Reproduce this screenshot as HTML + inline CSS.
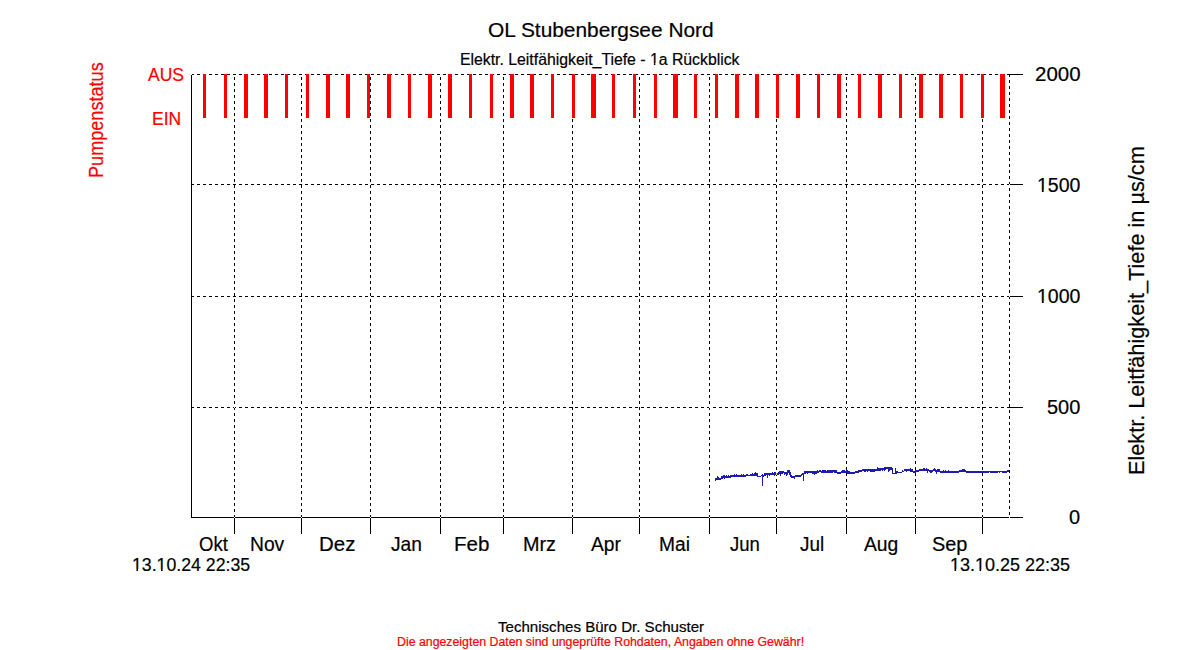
<!DOCTYPE html>
<html><head><meta charset="utf-8"><style>
html,body{margin:0;padding:0;background:#fff;width:1200px;height:650px;overflow:hidden}
svg{display:block}
text{font-family:"Liberation Sans",sans-serif;stroke-width:0.2px;paint-order:stroke}
</style></head><body>
<svg width="1200" height="650" viewBox="0 0 1200 650">
<rect width="1200" height="650" fill="#fff"/>
<g shape-rendering="crispEdges">
<path fill="#1c1cb4" d="M715 478h1v3h-1zM716 478h1v2h-1zM717 476h1v4h-1zM718 477h1v3h-1zM719 478h1v2h-1zM720 478h1v2h-1zM721 476h1v3h-1zM722 476h1v3h-1zM723 475h1v3h-1zM724 475h1v4h-1zM725 476h1v2h-1zM726 475h1v3h-1zM727 476h1v2h-1zM728 475h1v3h-1zM729 476h1v2h-1zM730 475h1v3h-1zM731 475h1v2h-1zM732 475h1v2h-1zM733 475h1v2h-1zM734 474h1v3h-1zM735 475h1v2h-1zM736 474h1v3h-1zM737 475h1v2h-1zM738 475h1v2h-1zM739 475h1v2h-1zM740 475h1v2h-1zM741 474h1v3h-1zM742 475h1v2h-1zM743 474h1v3h-1zM744 475h1v2h-1zM745 475h1v2h-1zM746 474h1v2h-1zM747 474h1v2h-1zM748 475h1v1h-1zM749 475h1v1h-1zM750 474h1v2h-1zM751 474h1v2h-1zM752 473h1v3h-1zM753 474h1v2h-1zM754 473h1v3h-1zM755 472h1v4h-1zM756 473h1v3h-1zM757 473h1v4h-1zM758 476h1v1h-1zM759 476h1v1h-1zM760 476h1v1h-1zM761 475h1v1h-1zM762 474h1v12h-1zM763 475h1v2h-1zM764 473h1v3h-1zM765 473h1v3h-1zM766 473h1v2h-1zM767 473h1v5h-1zM768 473h1v2h-1zM769 473h1v3h-1zM770 473h1v2h-1zM771 473h1v2h-1zM772 472h1v3h-1zM773 473h1v2h-1zM774 472h1v4h-1zM775 472h1v3h-1zM776 473h1v2h-1zM777 473h1v2h-1zM778 472h1v3h-1zM779 471h1v3h-1zM780 471h1v5h-1zM781 471h1v3h-1zM782 471h1v3h-1zM783 471h1v2h-1zM784 472h1v3h-1zM785 472h1v2h-1zM786 472h1v4h-1zM787 470h1v5h-1zM788 470h1v3h-1zM789 470h1v5h-1zM790 472h1v5h-1zM791 475h1v3h-1zM792 476h1v2h-1zM793 476h1v2h-1zM794 476h1v3h-1zM795 475h1v2h-1zM796 475h1v2h-1zM797 475h1v2h-1zM798 475h1v2h-1zM799 475h1v2h-1zM800 475h1v2h-1zM801 474h1v2h-1zM802 473h1v2h-1zM803 473h1v8h-1zM804 471h1v3h-1zM805 471h1v3h-1zM806 471h1v2h-1zM807 471h1v3h-1zM808 471h1v2h-1zM809 471h1v2h-1zM810 471h1v2h-1zM811 471h1v2h-1zM812 471h1v3h-1zM813 471h1v3h-1zM814 471h1v4h-1zM815 471h1v3h-1zM816 471h1v3h-1zM817 470h1v3h-1zM818 471h1v2h-1zM819 470h1v2h-1zM820 470h1v2h-1zM821 471h1v2h-1zM822 470h1v3h-1zM823 470h1v3h-1zM824 470h1v3h-1zM825 470h1v3h-1zM826 471h1v2h-1zM827 470h1v3h-1zM828 470h1v3h-1zM829 470h1v3h-1zM830 470h1v3h-1zM831 470h1v3h-1zM832 470h1v3h-1zM833 470h1v2h-1zM834 470h1v3h-1zM835 470h1v3h-1zM836 470h1v3h-1zM837 472h1v2h-1zM838 472h1v2h-1zM839 472h1v2h-1zM840 472h1v2h-1zM841 471h1v2h-1zM842 470h1v3h-1zM843 470h1v3h-1zM844 470h1v3h-1zM845 471h1v2h-1zM846 470h1v3h-1zM847 470h1v4h-1zM848 471h1v3h-1zM849 471h1v3h-1zM850 472h1v2h-1zM851 472h1v2h-1zM852 472h1v2h-1zM853 472h1v2h-1zM854 472h1v2h-1zM855 471h1v2h-1zM856 471h1v2h-1zM857 471h1v2h-1zM858 470h1v3h-1zM859 470h1v2h-1zM860 470h1v2h-1zM861 470h1v2h-1zM862 469h1v2h-1zM863 469h1v2h-1zM864 469h1v3h-1zM865 469h1v3h-1zM866 469h1v2h-1zM867 469h1v3h-1zM868 469h1v2h-1zM869 469h1v2h-1zM870 469h1v3h-1zM871 469h1v3h-1zM872 469h1v3h-1zM873 469h1v3h-1zM874 469h1v3h-1zM875 469h1v2h-1zM876 469h1v2h-1zM877 467h1v4h-1zM878 468h1v3h-1zM879 468h1v3h-1zM880 468h1v3h-1zM881 468h1v2h-1zM882 468h1v3h-1zM883 468h1v2h-1zM884 467h1v4h-1zM885 467h1v3h-1zM886 467h1v2h-1zM887 467h1v2h-1zM888 467h1v5h-1zM889 467h1v4h-1zM890 467h1v3h-1zM891 467h1v3h-1zM892 468h1v6h-1zM893 473h1v1h-1zM894 473h1v1h-1zM895 468h1v6h-1zM896 471h1v3h-1zM897 471h1v2h-1zM898 472h1v1h-1zM899 472h1v1h-1zM900 472h1v1h-1zM901 472h1v1h-1zM902 470h1v2h-1zM903 471h1v1h-1zM904 469h1v2h-1zM905 469h1v2h-1zM906 469h1v3h-1zM907 469h1v2h-1zM908 469h1v2h-1zM909 469h1v2h-1zM910 468h1v4h-1zM911 469h1v3h-1zM912 469h1v3h-1zM913 471h1v2h-1zM914 471h1v2h-1zM915 470h1v3h-1zM916 470h1v2h-1zM917 470h1v2h-1zM918 470h1v2h-1zM919 469h1v2h-1zM920 469h1v2h-1zM921 469h1v2h-1zM922 469h1v2h-1zM923 468h1v3h-1zM924 468h1v3h-1zM925 469h1v2h-1zM926 468h1v3h-1zM927 469h1v4h-1zM928 469h1v2h-1zM929 470h1v2h-1zM930 470h1v3h-1zM931 470h1v3h-1zM932 470h1v2h-1zM933 469h1v2h-1zM934 468h1v3h-1zM935 469h1v3h-1zM936 470h1v4h-1zM937 469h1v3h-1zM938 469h1v3h-1zM939 469h1v3h-1zM940 471h1v2h-1zM941 471h1v2h-1zM942 471h1v2h-1zM943 470h1v3h-1zM944 471h1v2h-1zM945 470h1v3h-1zM946 471h1v2h-1zM947 471h1v2h-1zM948 470h1v3h-1zM949 471h1v2h-1zM950 471h1v2h-1zM951 471h1v2h-1zM952 471h1v2h-1zM953 471h1v2h-1zM954 471h1v2h-1zM955 471h1v2h-1zM956 471h1v2h-1zM957 471h1v2h-1zM958 471h1v2h-1zM959 470h1v2h-1zM960 470h1v2h-1zM961 470h1v2h-1zM962 469h1v3h-1zM963 469h1v3h-1zM964 469h1v3h-1zM965 470h1v2h-1zM966 471h1v2h-1zM967 471h1v2h-1zM968 471h1v2h-1zM969 471h1v2h-1zM970 471h1v2h-1zM971 471h1v2h-1zM972 471h1v2h-1zM973 471h1v2h-1zM974 471h1v2h-1zM975 471h1v2h-1zM976 471h1v2h-1zM977 471h1v2h-1zM978 471h1v2h-1zM979 471h1v2h-1zM980 471h1v2h-1zM981 471h1v2h-1zM982 471h1v2h-1zM983 471h1v2h-1zM984 471h1v2h-1zM985 471h1v2h-1zM986 471h1v2h-1zM987 471h1v2h-1zM988 471h1v2h-1zM989 471h1v1h-1zM990 471h1v2h-1zM991 471h1v2h-1zM992 471h1v2h-1zM993 471h1v2h-1zM994 471h1v2h-1zM995 471h1v2h-1zM996 471h1v2h-1zM997 471h1v2h-1zM998 471h1v1h-1zM999 471h1v2h-1zM1000 471h1v1h-1zM1001 471h1v1h-1zM1002 471h1v2h-1zM1003 471h1v2h-1zM1004 471h1v2h-1zM1005 471h1v2h-1zM1006 471h1v2h-1zM1007 470h1v2h-1zM1008 470h1v2h-1z"/>
<path fill="#000" d="M192 74h2v1h-2zM197 74h3v1h-3zM203 74h3v1h-3zM209 74h3v1h-3zM215 74h3v1h-3zM221 74h3v1h-3zM227 74h3v1h-3zM233 74h3v1h-3zM239 74h3v1h-3zM245 74h3v1h-3zM251 74h3v1h-3zM257 74h3v1h-3zM263 74h3v1h-3zM269 74h3v1h-3zM275 74h3v1h-3zM281 74h3v1h-3zM287 74h3v1h-3zM293 74h3v1h-3zM299 74h3v1h-3zM305 74h3v1h-3zM311 74h3v1h-3zM317 74h3v1h-3zM323 74h3v1h-3zM329 74h3v1h-3zM335 74h3v1h-3zM341 74h3v1h-3zM347 74h3v1h-3zM353 74h3v1h-3zM359 74h3v1h-3zM365 74h3v1h-3zM371 74h3v1h-3zM377 74h3v1h-3zM383 74h3v1h-3zM389 74h3v1h-3zM395 74h3v1h-3zM401 74h3v1h-3zM407 74h3v1h-3zM413 74h3v1h-3zM419 74h3v1h-3zM425 74h3v1h-3zM431 74h3v1h-3zM437 74h3v1h-3zM443 74h3v1h-3zM449 74h3v1h-3zM455 74h3v1h-3zM461 74h3v1h-3zM467 74h3v1h-3zM473 74h3v1h-3zM479 74h3v1h-3zM485 74h3v1h-3zM491 74h3v1h-3zM497 74h3v1h-3zM503 74h3v1h-3zM509 74h3v1h-3zM515 74h3v1h-3zM521 74h3v1h-3zM527 74h3v1h-3zM533 74h3v1h-3zM539 74h3v1h-3zM545 74h3v1h-3zM551 74h3v1h-3zM557 74h3v1h-3zM563 74h3v1h-3zM569 74h3v1h-3zM575 74h3v1h-3zM581 74h3v1h-3zM587 74h3v1h-3zM593 74h3v1h-3zM599 74h3v1h-3zM605 74h3v1h-3zM611 74h3v1h-3zM617 74h3v1h-3zM623 74h3v1h-3zM629 74h3v1h-3zM635 74h3v1h-3zM641 74h3v1h-3zM647 74h3v1h-3zM653 74h3v1h-3zM659 74h3v1h-3zM665 74h3v1h-3zM671 74h3v1h-3zM677 74h3v1h-3zM683 74h3v1h-3zM689 74h3v1h-3zM695 74h3v1h-3zM701 74h3v1h-3zM707 74h3v1h-3zM713 74h3v1h-3zM719 74h3v1h-3zM725 74h3v1h-3zM731 74h3v1h-3zM737 74h3v1h-3zM743 74h3v1h-3zM749 74h3v1h-3zM755 74h3v1h-3zM761 74h3v1h-3zM767 74h3v1h-3zM773 74h3v1h-3zM779 74h3v1h-3zM785 74h3v1h-3zM791 74h3v1h-3zM797 74h3v1h-3zM803 74h3v1h-3zM809 74h3v1h-3zM815 74h3v1h-3zM821 74h3v1h-3zM827 74h3v1h-3zM833 74h3v1h-3zM839 74h3v1h-3zM845 74h3v1h-3zM851 74h3v1h-3zM857 74h3v1h-3zM863 74h3v1h-3zM869 74h3v1h-3zM875 74h3v1h-3zM881 74h3v1h-3zM887 74h3v1h-3zM893 74h3v1h-3zM899 74h3v1h-3zM905 74h3v1h-3zM911 74h3v1h-3zM917 74h3v1h-3zM923 74h3v1h-3zM929 74h3v1h-3zM935 74h3v1h-3zM941 74h3v1h-3zM947 74h3v1h-3zM953 74h3v1h-3zM959 74h3v1h-3zM965 74h3v1h-3zM971 74h3v1h-3zM977 74h3v1h-3zM983 74h3v1h-3zM989 74h3v1h-3zM995 74h3v1h-3zM1001 74h3v1h-3zM1007 74h2v1h-2zM1009 74h14v1h-14zM191 184h3v1h-3zM197 184h3v1h-3zM203 184h3v1h-3zM209 184h3v1h-3zM215 184h3v1h-3zM221 184h3v1h-3zM227 184h3v1h-3zM233 184h3v1h-3zM239 184h3v1h-3zM245 184h3v1h-3zM251 184h3v1h-3zM257 184h3v1h-3zM263 184h3v1h-3zM269 184h3v1h-3zM275 184h3v1h-3zM281 184h3v1h-3zM287 184h3v1h-3zM293 184h3v1h-3zM299 184h3v1h-3zM305 184h3v1h-3zM311 184h3v1h-3zM317 184h3v1h-3zM323 184h3v1h-3zM329 184h3v1h-3zM335 184h3v1h-3zM341 184h3v1h-3zM347 184h3v1h-3zM353 184h3v1h-3zM359 184h3v1h-3zM365 184h3v1h-3zM371 184h3v1h-3zM377 184h3v1h-3zM383 184h3v1h-3zM389 184h3v1h-3zM395 184h3v1h-3zM401 184h3v1h-3zM407 184h3v1h-3zM413 184h3v1h-3zM419 184h3v1h-3zM425 184h3v1h-3zM431 184h3v1h-3zM437 184h3v1h-3zM443 184h3v1h-3zM449 184h3v1h-3zM455 184h3v1h-3zM461 184h3v1h-3zM467 184h3v1h-3zM473 184h3v1h-3zM479 184h3v1h-3zM485 184h3v1h-3zM491 184h3v1h-3zM497 184h3v1h-3zM503 184h3v1h-3zM509 184h3v1h-3zM515 184h3v1h-3zM521 184h3v1h-3zM527 184h3v1h-3zM533 184h3v1h-3zM539 184h3v1h-3zM545 184h3v1h-3zM551 184h3v1h-3zM557 184h3v1h-3zM563 184h3v1h-3zM569 184h3v1h-3zM575 184h3v1h-3zM581 184h3v1h-3zM587 184h3v1h-3zM593 184h3v1h-3zM599 184h3v1h-3zM605 184h3v1h-3zM611 184h3v1h-3zM617 184h3v1h-3zM623 184h3v1h-3zM629 184h3v1h-3zM635 184h3v1h-3zM641 184h3v1h-3zM647 184h3v1h-3zM653 184h3v1h-3zM659 184h3v1h-3zM665 184h3v1h-3zM671 184h3v1h-3zM677 184h3v1h-3zM683 184h3v1h-3zM689 184h3v1h-3zM695 184h3v1h-3zM701 184h3v1h-3zM707 184h3v1h-3zM713 184h3v1h-3zM719 184h3v1h-3zM725 184h3v1h-3zM731 184h3v1h-3zM737 184h3v1h-3zM743 184h3v1h-3zM749 184h3v1h-3zM755 184h3v1h-3zM761 184h3v1h-3zM767 184h3v1h-3zM773 184h3v1h-3zM779 184h3v1h-3zM785 184h3v1h-3zM791 184h3v1h-3zM797 184h3v1h-3zM803 184h3v1h-3zM809 184h3v1h-3zM815 184h3v1h-3zM821 184h3v1h-3zM827 184h3v1h-3zM833 184h3v1h-3zM839 184h3v1h-3zM845 184h3v1h-3zM851 184h3v1h-3zM857 184h3v1h-3zM863 184h3v1h-3zM869 184h3v1h-3zM875 184h3v1h-3zM881 184h3v1h-3zM887 184h3v1h-3zM893 184h3v1h-3zM899 184h3v1h-3zM905 184h3v1h-3zM911 184h3v1h-3zM917 184h3v1h-3zM923 184h3v1h-3zM929 184h3v1h-3zM935 184h3v1h-3zM941 184h3v1h-3zM947 184h3v1h-3zM953 184h3v1h-3zM959 184h3v1h-3zM965 184h3v1h-3zM971 184h3v1h-3zM977 184h3v1h-3zM983 184h3v1h-3zM989 184h3v1h-3zM995 184h3v1h-3zM1001 184h3v1h-3zM1007 184h2v1h-2zM1009 184h14v1h-14zM191 296h3v1h-3zM197 296h3v1h-3zM203 296h3v1h-3zM209 296h3v1h-3zM215 296h3v1h-3zM221 296h3v1h-3zM227 296h3v1h-3zM233 296h3v1h-3zM239 296h3v1h-3zM245 296h3v1h-3zM251 296h3v1h-3zM257 296h3v1h-3zM263 296h3v1h-3zM269 296h3v1h-3zM275 296h3v1h-3zM281 296h3v1h-3zM287 296h3v1h-3zM293 296h3v1h-3zM299 296h3v1h-3zM305 296h3v1h-3zM311 296h3v1h-3zM317 296h3v1h-3zM323 296h3v1h-3zM329 296h3v1h-3zM335 296h3v1h-3zM341 296h3v1h-3zM347 296h3v1h-3zM353 296h3v1h-3zM359 296h3v1h-3zM365 296h3v1h-3zM371 296h3v1h-3zM377 296h3v1h-3zM383 296h3v1h-3zM389 296h3v1h-3zM395 296h3v1h-3zM401 296h3v1h-3zM407 296h3v1h-3zM413 296h3v1h-3zM419 296h3v1h-3zM425 296h3v1h-3zM431 296h3v1h-3zM437 296h3v1h-3zM443 296h3v1h-3zM449 296h3v1h-3zM455 296h3v1h-3zM461 296h3v1h-3zM467 296h3v1h-3zM473 296h3v1h-3zM479 296h3v1h-3zM485 296h3v1h-3zM491 296h3v1h-3zM497 296h3v1h-3zM503 296h3v1h-3zM509 296h3v1h-3zM515 296h3v1h-3zM521 296h3v1h-3zM527 296h3v1h-3zM533 296h3v1h-3zM539 296h3v1h-3zM545 296h3v1h-3zM551 296h3v1h-3zM557 296h3v1h-3zM563 296h3v1h-3zM569 296h3v1h-3zM575 296h3v1h-3zM581 296h3v1h-3zM587 296h3v1h-3zM593 296h3v1h-3zM599 296h3v1h-3zM605 296h3v1h-3zM611 296h3v1h-3zM617 296h3v1h-3zM623 296h3v1h-3zM629 296h3v1h-3zM635 296h3v1h-3zM641 296h3v1h-3zM647 296h3v1h-3zM653 296h3v1h-3zM659 296h3v1h-3zM665 296h3v1h-3zM671 296h3v1h-3zM677 296h3v1h-3zM683 296h3v1h-3zM689 296h3v1h-3zM695 296h3v1h-3zM701 296h3v1h-3zM707 296h3v1h-3zM713 296h3v1h-3zM719 296h3v1h-3zM725 296h3v1h-3zM731 296h3v1h-3zM737 296h3v1h-3zM743 296h3v1h-3zM749 296h3v1h-3zM755 296h3v1h-3zM761 296h3v1h-3zM767 296h3v1h-3zM773 296h3v1h-3zM779 296h3v1h-3zM785 296h3v1h-3zM791 296h3v1h-3zM797 296h3v1h-3zM803 296h3v1h-3zM809 296h3v1h-3zM815 296h3v1h-3zM821 296h3v1h-3zM827 296h3v1h-3zM833 296h3v1h-3zM839 296h3v1h-3zM845 296h3v1h-3zM851 296h3v1h-3zM857 296h3v1h-3zM863 296h3v1h-3zM869 296h3v1h-3zM875 296h3v1h-3zM881 296h3v1h-3zM887 296h3v1h-3zM893 296h3v1h-3zM899 296h3v1h-3zM905 296h3v1h-3zM911 296h3v1h-3zM917 296h3v1h-3zM923 296h3v1h-3zM929 296h3v1h-3zM935 296h3v1h-3zM941 296h3v1h-3zM947 296h3v1h-3zM953 296h3v1h-3zM959 296h3v1h-3zM965 296h3v1h-3zM971 296h3v1h-3zM977 296h3v1h-3zM983 296h3v1h-3zM989 296h3v1h-3zM995 296h3v1h-3zM1001 296h3v1h-3zM1007 296h2v1h-2zM1009 296h14v1h-14zM191 407h3v1h-3zM197 407h3v1h-3zM203 407h3v1h-3zM209 407h3v1h-3zM215 407h3v1h-3zM221 407h3v1h-3zM227 407h3v1h-3zM233 407h3v1h-3zM239 407h3v1h-3zM245 407h3v1h-3zM251 407h3v1h-3zM257 407h3v1h-3zM263 407h3v1h-3zM269 407h3v1h-3zM275 407h3v1h-3zM281 407h3v1h-3zM287 407h3v1h-3zM293 407h3v1h-3zM299 407h3v1h-3zM305 407h3v1h-3zM311 407h3v1h-3zM317 407h3v1h-3zM323 407h3v1h-3zM329 407h3v1h-3zM335 407h3v1h-3zM341 407h3v1h-3zM347 407h3v1h-3zM353 407h3v1h-3zM359 407h3v1h-3zM365 407h3v1h-3zM371 407h3v1h-3zM377 407h3v1h-3zM383 407h3v1h-3zM389 407h3v1h-3zM395 407h3v1h-3zM401 407h3v1h-3zM407 407h3v1h-3zM413 407h3v1h-3zM419 407h3v1h-3zM425 407h3v1h-3zM431 407h3v1h-3zM437 407h3v1h-3zM443 407h3v1h-3zM449 407h3v1h-3zM455 407h3v1h-3zM461 407h3v1h-3zM467 407h3v1h-3zM473 407h3v1h-3zM479 407h3v1h-3zM485 407h3v1h-3zM491 407h3v1h-3zM497 407h3v1h-3zM503 407h3v1h-3zM509 407h3v1h-3zM515 407h3v1h-3zM521 407h3v1h-3zM527 407h3v1h-3zM533 407h3v1h-3zM539 407h3v1h-3zM545 407h3v1h-3zM551 407h3v1h-3zM557 407h3v1h-3zM563 407h3v1h-3zM569 407h3v1h-3zM575 407h3v1h-3zM581 407h3v1h-3zM587 407h3v1h-3zM593 407h3v1h-3zM599 407h3v1h-3zM605 407h3v1h-3zM611 407h3v1h-3zM617 407h3v1h-3zM623 407h3v1h-3zM629 407h3v1h-3zM635 407h3v1h-3zM641 407h3v1h-3zM647 407h3v1h-3zM653 407h3v1h-3zM659 407h3v1h-3zM665 407h3v1h-3zM671 407h3v1h-3zM677 407h3v1h-3zM683 407h3v1h-3zM689 407h3v1h-3zM695 407h3v1h-3zM701 407h3v1h-3zM707 407h3v1h-3zM713 407h3v1h-3zM719 407h3v1h-3zM725 407h3v1h-3zM731 407h3v1h-3zM737 407h3v1h-3zM743 407h3v1h-3zM749 407h3v1h-3zM755 407h3v1h-3zM761 407h3v1h-3zM767 407h3v1h-3zM773 407h3v1h-3zM779 407h3v1h-3zM785 407h3v1h-3zM791 407h3v1h-3zM797 407h3v1h-3zM803 407h3v1h-3zM809 407h3v1h-3zM815 407h3v1h-3zM821 407h3v1h-3zM827 407h3v1h-3zM833 407h3v1h-3zM839 407h3v1h-3zM845 407h3v1h-3zM851 407h3v1h-3zM857 407h3v1h-3zM863 407h3v1h-3zM869 407h3v1h-3zM875 407h3v1h-3zM881 407h3v1h-3zM887 407h3v1h-3zM893 407h3v1h-3zM899 407h3v1h-3zM905 407h3v1h-3zM911 407h3v1h-3zM917 407h3v1h-3zM923 407h3v1h-3zM929 407h3v1h-3zM935 407h3v1h-3zM941 407h3v1h-3zM947 407h3v1h-3zM953 407h3v1h-3zM959 407h3v1h-3zM965 407h3v1h-3zM971 407h3v1h-3zM977 407h3v1h-3zM983 407h3v1h-3zM989 407h3v1h-3zM995 407h3v1h-3zM1001 407h3v1h-3zM1007 407h2v1h-2zM1009 407h14v1h-14zM191 75h1v443h-1zM191 517h832v1h-832zM234 77h1v3h-1zM234 83h1v3h-1zM234 89h1v3h-1zM234 95h1v3h-1zM234 101h1v3h-1zM234 107h1v3h-1zM234 113h1v3h-1zM234 119h1v3h-1zM234 125h1v3h-1zM234 131h1v3h-1zM234 137h1v3h-1zM234 143h1v3h-1zM234 149h1v3h-1zM234 155h1v3h-1zM234 161h1v3h-1zM234 167h1v3h-1zM234 173h1v3h-1zM234 179h1v3h-1zM234 185h1v3h-1zM234 191h1v3h-1zM234 197h1v3h-1zM234 203h1v3h-1zM234 209h1v3h-1zM234 215h1v3h-1zM234 221h1v3h-1zM234 227h1v3h-1zM234 233h1v3h-1zM234 239h1v3h-1zM234 245h1v3h-1zM234 251h1v3h-1zM234 257h1v3h-1zM234 263h1v3h-1zM234 269h1v3h-1zM234 275h1v3h-1zM234 281h1v3h-1zM234 287h1v3h-1zM234 293h1v3h-1zM234 299h1v3h-1zM234 305h1v3h-1zM234 311h1v3h-1zM234 317h1v3h-1zM234 323h1v3h-1zM234 329h1v3h-1zM234 335h1v3h-1zM234 341h1v3h-1zM234 347h1v3h-1zM234 353h1v3h-1zM234 359h1v3h-1zM234 365h1v3h-1zM234 371h1v3h-1zM234 377h1v3h-1zM234 383h1v3h-1zM234 389h1v3h-1zM234 395h1v3h-1zM234 401h1v3h-1zM234 407h1v3h-1zM234 413h1v3h-1zM234 419h1v3h-1zM234 425h1v3h-1zM234 431h1v3h-1zM234 437h1v3h-1zM234 443h1v3h-1zM234 449h1v3h-1zM234 455h1v3h-1zM234 461h1v3h-1zM234 467h1v3h-1zM234 473h1v3h-1zM234 479h1v3h-1zM234 485h1v3h-1zM234 491h1v3h-1zM234 497h1v3h-1zM234 503h1v3h-1zM234 509h1v3h-1zM234 515h1v2h-1zM234 518h1v16h-1zM301 77h1v3h-1zM301 83h1v3h-1zM301 89h1v3h-1zM301 95h1v3h-1zM301 101h1v3h-1zM301 107h1v3h-1zM301 113h1v3h-1zM301 119h1v3h-1zM301 125h1v3h-1zM301 131h1v3h-1zM301 137h1v3h-1zM301 143h1v3h-1zM301 149h1v3h-1zM301 155h1v3h-1zM301 161h1v3h-1zM301 167h1v3h-1zM301 173h1v3h-1zM301 179h1v3h-1zM301 185h1v3h-1zM301 191h1v3h-1zM301 197h1v3h-1zM301 203h1v3h-1zM301 209h1v3h-1zM301 215h1v3h-1zM301 221h1v3h-1zM301 227h1v3h-1zM301 233h1v3h-1zM301 239h1v3h-1zM301 245h1v3h-1zM301 251h1v3h-1zM301 257h1v3h-1zM301 263h1v3h-1zM301 269h1v3h-1zM301 275h1v3h-1zM301 281h1v3h-1zM301 287h1v3h-1zM301 293h1v3h-1zM301 299h1v3h-1zM301 305h1v3h-1zM301 311h1v3h-1zM301 317h1v3h-1zM301 323h1v3h-1zM301 329h1v3h-1zM301 335h1v3h-1zM301 341h1v3h-1zM301 347h1v3h-1zM301 353h1v3h-1zM301 359h1v3h-1zM301 365h1v3h-1zM301 371h1v3h-1zM301 377h1v3h-1zM301 383h1v3h-1zM301 389h1v3h-1zM301 395h1v3h-1zM301 401h1v3h-1zM301 407h1v3h-1zM301 413h1v3h-1zM301 419h1v3h-1zM301 425h1v3h-1zM301 431h1v3h-1zM301 437h1v3h-1zM301 443h1v3h-1zM301 449h1v3h-1zM301 455h1v3h-1zM301 461h1v3h-1zM301 467h1v3h-1zM301 473h1v3h-1zM301 479h1v3h-1zM301 485h1v3h-1zM301 491h1v3h-1zM301 497h1v3h-1zM301 503h1v3h-1zM301 509h1v3h-1zM301 515h1v2h-1zM301 518h1v16h-1zM370 77h1v3h-1zM370 83h1v3h-1zM370 89h1v3h-1zM370 95h1v3h-1zM370 101h1v3h-1zM370 107h1v3h-1zM370 113h1v3h-1zM370 119h1v3h-1zM370 125h1v3h-1zM370 131h1v3h-1zM370 137h1v3h-1zM370 143h1v3h-1zM370 149h1v3h-1zM370 155h1v3h-1zM370 161h1v3h-1zM370 167h1v3h-1zM370 173h1v3h-1zM370 179h1v3h-1zM370 185h1v3h-1zM370 191h1v3h-1zM370 197h1v3h-1zM370 203h1v3h-1zM370 209h1v3h-1zM370 215h1v3h-1zM370 221h1v3h-1zM370 227h1v3h-1zM370 233h1v3h-1zM370 239h1v3h-1zM370 245h1v3h-1zM370 251h1v3h-1zM370 257h1v3h-1zM370 263h1v3h-1zM370 269h1v3h-1zM370 275h1v3h-1zM370 281h1v3h-1zM370 287h1v3h-1zM370 293h1v3h-1zM370 299h1v3h-1zM370 305h1v3h-1zM370 311h1v3h-1zM370 317h1v3h-1zM370 323h1v3h-1zM370 329h1v3h-1zM370 335h1v3h-1zM370 341h1v3h-1zM370 347h1v3h-1zM370 353h1v3h-1zM370 359h1v3h-1zM370 365h1v3h-1zM370 371h1v3h-1zM370 377h1v3h-1zM370 383h1v3h-1zM370 389h1v3h-1zM370 395h1v3h-1zM370 401h1v3h-1zM370 407h1v3h-1zM370 413h1v3h-1zM370 419h1v3h-1zM370 425h1v3h-1zM370 431h1v3h-1zM370 437h1v3h-1zM370 443h1v3h-1zM370 449h1v3h-1zM370 455h1v3h-1zM370 461h1v3h-1zM370 467h1v3h-1zM370 473h1v3h-1zM370 479h1v3h-1zM370 485h1v3h-1zM370 491h1v3h-1zM370 497h1v3h-1zM370 503h1v3h-1zM370 509h1v3h-1zM370 515h1v2h-1zM370 518h1v16h-1zM440 77h1v3h-1zM440 83h1v3h-1zM440 89h1v3h-1zM440 95h1v3h-1zM440 101h1v3h-1zM440 107h1v3h-1zM440 113h1v3h-1zM440 119h1v3h-1zM440 125h1v3h-1zM440 131h1v3h-1zM440 137h1v3h-1zM440 143h1v3h-1zM440 149h1v3h-1zM440 155h1v3h-1zM440 161h1v3h-1zM440 167h1v3h-1zM440 173h1v3h-1zM440 179h1v3h-1zM440 185h1v3h-1zM440 191h1v3h-1zM440 197h1v3h-1zM440 203h1v3h-1zM440 209h1v3h-1zM440 215h1v3h-1zM440 221h1v3h-1zM440 227h1v3h-1zM440 233h1v3h-1zM440 239h1v3h-1zM440 245h1v3h-1zM440 251h1v3h-1zM440 257h1v3h-1zM440 263h1v3h-1zM440 269h1v3h-1zM440 275h1v3h-1zM440 281h1v3h-1zM440 287h1v3h-1zM440 293h1v3h-1zM440 299h1v3h-1zM440 305h1v3h-1zM440 311h1v3h-1zM440 317h1v3h-1zM440 323h1v3h-1zM440 329h1v3h-1zM440 335h1v3h-1zM440 341h1v3h-1zM440 347h1v3h-1zM440 353h1v3h-1zM440 359h1v3h-1zM440 365h1v3h-1zM440 371h1v3h-1zM440 377h1v3h-1zM440 383h1v3h-1zM440 389h1v3h-1zM440 395h1v3h-1zM440 401h1v3h-1zM440 407h1v3h-1zM440 413h1v3h-1zM440 419h1v3h-1zM440 425h1v3h-1zM440 431h1v3h-1zM440 437h1v3h-1zM440 443h1v3h-1zM440 449h1v3h-1zM440 455h1v3h-1zM440 461h1v3h-1zM440 467h1v3h-1zM440 473h1v3h-1zM440 479h1v3h-1zM440 485h1v3h-1zM440 491h1v3h-1zM440 497h1v3h-1zM440 503h1v3h-1zM440 509h1v3h-1zM440 515h1v2h-1zM440 518h1v16h-1zM503 77h1v3h-1zM503 83h1v3h-1zM503 89h1v3h-1zM503 95h1v3h-1zM503 101h1v3h-1zM503 107h1v3h-1zM503 113h1v3h-1zM503 119h1v3h-1zM503 125h1v3h-1zM503 131h1v3h-1zM503 137h1v3h-1zM503 143h1v3h-1zM503 149h1v3h-1zM503 155h1v3h-1zM503 161h1v3h-1zM503 167h1v3h-1zM503 173h1v3h-1zM503 179h1v3h-1zM503 185h1v3h-1zM503 191h1v3h-1zM503 197h1v3h-1zM503 203h1v3h-1zM503 209h1v3h-1zM503 215h1v3h-1zM503 221h1v3h-1zM503 227h1v3h-1zM503 233h1v3h-1zM503 239h1v3h-1zM503 245h1v3h-1zM503 251h1v3h-1zM503 257h1v3h-1zM503 263h1v3h-1zM503 269h1v3h-1zM503 275h1v3h-1zM503 281h1v3h-1zM503 287h1v3h-1zM503 293h1v3h-1zM503 299h1v3h-1zM503 305h1v3h-1zM503 311h1v3h-1zM503 317h1v3h-1zM503 323h1v3h-1zM503 329h1v3h-1zM503 335h1v3h-1zM503 341h1v3h-1zM503 347h1v3h-1zM503 353h1v3h-1zM503 359h1v3h-1zM503 365h1v3h-1zM503 371h1v3h-1zM503 377h1v3h-1zM503 383h1v3h-1zM503 389h1v3h-1zM503 395h1v3h-1zM503 401h1v3h-1zM503 407h1v3h-1zM503 413h1v3h-1zM503 419h1v3h-1zM503 425h1v3h-1zM503 431h1v3h-1zM503 437h1v3h-1zM503 443h1v3h-1zM503 449h1v3h-1zM503 455h1v3h-1zM503 461h1v3h-1zM503 467h1v3h-1zM503 473h1v3h-1zM503 479h1v3h-1zM503 485h1v3h-1zM503 491h1v3h-1zM503 497h1v3h-1zM503 503h1v3h-1zM503 509h1v3h-1zM503 515h1v2h-1zM503 518h1v16h-1zM572 77h1v3h-1zM572 83h1v3h-1zM572 89h1v3h-1zM572 95h1v3h-1zM572 101h1v3h-1zM572 107h1v3h-1zM572 113h1v3h-1zM572 119h1v3h-1zM572 125h1v3h-1zM572 131h1v3h-1zM572 137h1v3h-1zM572 143h1v3h-1zM572 149h1v3h-1zM572 155h1v3h-1zM572 161h1v3h-1zM572 167h1v3h-1zM572 173h1v3h-1zM572 179h1v3h-1zM572 185h1v3h-1zM572 191h1v3h-1zM572 197h1v3h-1zM572 203h1v3h-1zM572 209h1v3h-1zM572 215h1v3h-1zM572 221h1v3h-1zM572 227h1v3h-1zM572 233h1v3h-1zM572 239h1v3h-1zM572 245h1v3h-1zM572 251h1v3h-1zM572 257h1v3h-1zM572 263h1v3h-1zM572 269h1v3h-1zM572 275h1v3h-1zM572 281h1v3h-1zM572 287h1v3h-1zM572 293h1v3h-1zM572 299h1v3h-1zM572 305h1v3h-1zM572 311h1v3h-1zM572 317h1v3h-1zM572 323h1v3h-1zM572 329h1v3h-1zM572 335h1v3h-1zM572 341h1v3h-1zM572 347h1v3h-1zM572 353h1v3h-1zM572 359h1v3h-1zM572 365h1v3h-1zM572 371h1v3h-1zM572 377h1v3h-1zM572 383h1v3h-1zM572 389h1v3h-1zM572 395h1v3h-1zM572 401h1v3h-1zM572 407h1v3h-1zM572 413h1v3h-1zM572 419h1v3h-1zM572 425h1v3h-1zM572 431h1v3h-1zM572 437h1v3h-1zM572 443h1v3h-1zM572 449h1v3h-1zM572 455h1v3h-1zM572 461h1v3h-1zM572 467h1v3h-1zM572 473h1v3h-1zM572 479h1v3h-1zM572 485h1v3h-1zM572 491h1v3h-1zM572 497h1v3h-1zM572 503h1v3h-1zM572 509h1v3h-1zM572 515h1v2h-1zM572 518h1v16h-1zM639 77h1v3h-1zM639 83h1v3h-1zM639 89h1v3h-1zM639 95h1v3h-1zM639 101h1v3h-1zM639 107h1v3h-1zM639 113h1v3h-1zM639 119h1v3h-1zM639 125h1v3h-1zM639 131h1v3h-1zM639 137h1v3h-1zM639 143h1v3h-1zM639 149h1v3h-1zM639 155h1v3h-1zM639 161h1v3h-1zM639 167h1v3h-1zM639 173h1v3h-1zM639 179h1v3h-1zM639 185h1v3h-1zM639 191h1v3h-1zM639 197h1v3h-1zM639 203h1v3h-1zM639 209h1v3h-1zM639 215h1v3h-1zM639 221h1v3h-1zM639 227h1v3h-1zM639 233h1v3h-1zM639 239h1v3h-1zM639 245h1v3h-1zM639 251h1v3h-1zM639 257h1v3h-1zM639 263h1v3h-1zM639 269h1v3h-1zM639 275h1v3h-1zM639 281h1v3h-1zM639 287h1v3h-1zM639 293h1v3h-1zM639 299h1v3h-1zM639 305h1v3h-1zM639 311h1v3h-1zM639 317h1v3h-1zM639 323h1v3h-1zM639 329h1v3h-1zM639 335h1v3h-1zM639 341h1v3h-1zM639 347h1v3h-1zM639 353h1v3h-1zM639 359h1v3h-1zM639 365h1v3h-1zM639 371h1v3h-1zM639 377h1v3h-1zM639 383h1v3h-1zM639 389h1v3h-1zM639 395h1v3h-1zM639 401h1v3h-1zM639 407h1v3h-1zM639 413h1v3h-1zM639 419h1v3h-1zM639 425h1v3h-1zM639 431h1v3h-1zM639 437h1v3h-1zM639 443h1v3h-1zM639 449h1v3h-1zM639 455h1v3h-1zM639 461h1v3h-1zM639 467h1v3h-1zM639 473h1v3h-1zM639 479h1v3h-1zM639 485h1v3h-1zM639 491h1v3h-1zM639 497h1v3h-1zM639 503h1v3h-1zM639 509h1v3h-1zM639 515h1v2h-1zM639 518h1v16h-1zM709 77h1v3h-1zM709 83h1v3h-1zM709 89h1v3h-1zM709 95h1v3h-1zM709 101h1v3h-1zM709 107h1v3h-1zM709 113h1v3h-1zM709 119h1v3h-1zM709 125h1v3h-1zM709 131h1v3h-1zM709 137h1v3h-1zM709 143h1v3h-1zM709 149h1v3h-1zM709 155h1v3h-1zM709 161h1v3h-1zM709 167h1v3h-1zM709 173h1v3h-1zM709 179h1v3h-1zM709 185h1v3h-1zM709 191h1v3h-1zM709 197h1v3h-1zM709 203h1v3h-1zM709 209h1v3h-1zM709 215h1v3h-1zM709 221h1v3h-1zM709 227h1v3h-1zM709 233h1v3h-1zM709 239h1v3h-1zM709 245h1v3h-1zM709 251h1v3h-1zM709 257h1v3h-1zM709 263h1v3h-1zM709 269h1v3h-1zM709 275h1v3h-1zM709 281h1v3h-1zM709 287h1v3h-1zM709 293h1v3h-1zM709 299h1v3h-1zM709 305h1v3h-1zM709 311h1v3h-1zM709 317h1v3h-1zM709 323h1v3h-1zM709 329h1v3h-1zM709 335h1v3h-1zM709 341h1v3h-1zM709 347h1v3h-1zM709 353h1v3h-1zM709 359h1v3h-1zM709 365h1v3h-1zM709 371h1v3h-1zM709 377h1v3h-1zM709 383h1v3h-1zM709 389h1v3h-1zM709 395h1v3h-1zM709 401h1v3h-1zM709 407h1v3h-1zM709 413h1v3h-1zM709 419h1v3h-1zM709 425h1v3h-1zM709 431h1v3h-1zM709 437h1v3h-1zM709 443h1v3h-1zM709 449h1v3h-1zM709 455h1v3h-1zM709 461h1v3h-1zM709 467h1v3h-1zM709 473h1v3h-1zM709 479h1v3h-1zM709 485h1v3h-1zM709 491h1v3h-1zM709 497h1v3h-1zM709 503h1v3h-1zM709 509h1v3h-1zM709 515h1v2h-1zM709 518h1v16h-1zM776 77h1v3h-1zM776 83h1v3h-1zM776 89h1v3h-1zM776 95h1v3h-1zM776 101h1v3h-1zM776 107h1v3h-1zM776 113h1v3h-1zM776 119h1v3h-1zM776 125h1v3h-1zM776 131h1v3h-1zM776 137h1v3h-1zM776 143h1v3h-1zM776 149h1v3h-1zM776 155h1v3h-1zM776 161h1v3h-1zM776 167h1v3h-1zM776 173h1v3h-1zM776 179h1v3h-1zM776 185h1v3h-1zM776 191h1v3h-1zM776 197h1v3h-1zM776 203h1v3h-1zM776 209h1v3h-1zM776 215h1v3h-1zM776 221h1v3h-1zM776 227h1v3h-1zM776 233h1v3h-1zM776 239h1v3h-1zM776 245h1v3h-1zM776 251h1v3h-1zM776 257h1v3h-1zM776 263h1v3h-1zM776 269h1v3h-1zM776 275h1v3h-1zM776 281h1v3h-1zM776 287h1v3h-1zM776 293h1v3h-1zM776 299h1v3h-1zM776 305h1v3h-1zM776 311h1v3h-1zM776 317h1v3h-1zM776 323h1v3h-1zM776 329h1v3h-1zM776 335h1v3h-1zM776 341h1v3h-1zM776 347h1v3h-1zM776 353h1v3h-1zM776 359h1v3h-1zM776 365h1v3h-1zM776 371h1v3h-1zM776 377h1v3h-1zM776 383h1v3h-1zM776 389h1v3h-1zM776 395h1v3h-1zM776 401h1v3h-1zM776 407h1v3h-1zM776 413h1v3h-1zM776 419h1v3h-1zM776 425h1v3h-1zM776 431h1v3h-1zM776 437h1v3h-1zM776 443h1v3h-1zM776 449h1v3h-1zM776 455h1v3h-1zM776 461h1v3h-1zM776 467h1v3h-1zM776 473h1v3h-1zM776 479h1v3h-1zM776 485h1v3h-1zM776 491h1v3h-1zM776 497h1v3h-1zM776 503h1v3h-1zM776 509h1v3h-1zM776 515h1v2h-1zM776 518h1v16h-1zM846 77h1v3h-1zM846 83h1v3h-1zM846 89h1v3h-1zM846 95h1v3h-1zM846 101h1v3h-1zM846 107h1v3h-1zM846 113h1v3h-1zM846 119h1v3h-1zM846 125h1v3h-1zM846 131h1v3h-1zM846 137h1v3h-1zM846 143h1v3h-1zM846 149h1v3h-1zM846 155h1v3h-1zM846 161h1v3h-1zM846 167h1v3h-1zM846 173h1v3h-1zM846 179h1v3h-1zM846 185h1v3h-1zM846 191h1v3h-1zM846 197h1v3h-1zM846 203h1v3h-1zM846 209h1v3h-1zM846 215h1v3h-1zM846 221h1v3h-1zM846 227h1v3h-1zM846 233h1v3h-1zM846 239h1v3h-1zM846 245h1v3h-1zM846 251h1v3h-1zM846 257h1v3h-1zM846 263h1v3h-1zM846 269h1v3h-1zM846 275h1v3h-1zM846 281h1v3h-1zM846 287h1v3h-1zM846 293h1v3h-1zM846 299h1v3h-1zM846 305h1v3h-1zM846 311h1v3h-1zM846 317h1v3h-1zM846 323h1v3h-1zM846 329h1v3h-1zM846 335h1v3h-1zM846 341h1v3h-1zM846 347h1v3h-1zM846 353h1v3h-1zM846 359h1v3h-1zM846 365h1v3h-1zM846 371h1v3h-1zM846 377h1v3h-1zM846 383h1v3h-1zM846 389h1v3h-1zM846 395h1v3h-1zM846 401h1v3h-1zM846 407h1v3h-1zM846 413h1v3h-1zM846 419h1v3h-1zM846 425h1v3h-1zM846 431h1v3h-1zM846 437h1v3h-1zM846 443h1v3h-1zM846 449h1v3h-1zM846 455h1v3h-1zM846 461h1v3h-1zM846 467h1v3h-1zM846 473h1v3h-1zM846 479h1v3h-1zM846 485h1v3h-1zM846 491h1v3h-1zM846 497h1v3h-1zM846 503h1v3h-1zM846 509h1v3h-1zM846 515h1v2h-1zM846 518h1v16h-1zM915 77h1v3h-1zM915 83h1v3h-1zM915 89h1v3h-1zM915 95h1v3h-1zM915 101h1v3h-1zM915 107h1v3h-1zM915 113h1v3h-1zM915 119h1v3h-1zM915 125h1v3h-1zM915 131h1v3h-1zM915 137h1v3h-1zM915 143h1v3h-1zM915 149h1v3h-1zM915 155h1v3h-1zM915 161h1v3h-1zM915 167h1v3h-1zM915 173h1v3h-1zM915 179h1v3h-1zM915 185h1v3h-1zM915 191h1v3h-1zM915 197h1v3h-1zM915 203h1v3h-1zM915 209h1v3h-1zM915 215h1v3h-1zM915 221h1v3h-1zM915 227h1v3h-1zM915 233h1v3h-1zM915 239h1v3h-1zM915 245h1v3h-1zM915 251h1v3h-1zM915 257h1v3h-1zM915 263h1v3h-1zM915 269h1v3h-1zM915 275h1v3h-1zM915 281h1v3h-1zM915 287h1v3h-1zM915 293h1v3h-1zM915 299h1v3h-1zM915 305h1v3h-1zM915 311h1v3h-1zM915 317h1v3h-1zM915 323h1v3h-1zM915 329h1v3h-1zM915 335h1v3h-1zM915 341h1v3h-1zM915 347h1v3h-1zM915 353h1v3h-1zM915 359h1v3h-1zM915 365h1v3h-1zM915 371h1v3h-1zM915 377h1v3h-1zM915 383h1v3h-1zM915 389h1v3h-1zM915 395h1v3h-1zM915 401h1v3h-1zM915 407h1v3h-1zM915 413h1v3h-1zM915 419h1v3h-1zM915 425h1v3h-1zM915 431h1v3h-1zM915 437h1v3h-1zM915 443h1v3h-1zM915 449h1v3h-1zM915 455h1v3h-1zM915 461h1v3h-1zM915 467h1v3h-1zM915 473h1v3h-1zM915 479h1v3h-1zM915 485h1v3h-1zM915 491h1v3h-1zM915 497h1v3h-1zM915 503h1v3h-1zM915 509h1v3h-1zM915 515h1v2h-1zM915 518h1v16h-1zM982 77h1v3h-1zM982 83h1v3h-1zM982 89h1v3h-1zM982 95h1v3h-1zM982 101h1v3h-1zM982 107h1v3h-1zM982 113h1v3h-1zM982 119h1v3h-1zM982 125h1v3h-1zM982 131h1v3h-1zM982 137h1v3h-1zM982 143h1v3h-1zM982 149h1v3h-1zM982 155h1v3h-1zM982 161h1v3h-1zM982 167h1v3h-1zM982 173h1v3h-1zM982 179h1v3h-1zM982 185h1v3h-1zM982 191h1v3h-1zM982 197h1v3h-1zM982 203h1v3h-1zM982 209h1v3h-1zM982 215h1v3h-1zM982 221h1v3h-1zM982 227h1v3h-1zM982 233h1v3h-1zM982 239h1v3h-1zM982 245h1v3h-1zM982 251h1v3h-1zM982 257h1v3h-1zM982 263h1v3h-1zM982 269h1v3h-1zM982 275h1v3h-1zM982 281h1v3h-1zM982 287h1v3h-1zM982 293h1v3h-1zM982 299h1v3h-1zM982 305h1v3h-1zM982 311h1v3h-1zM982 317h1v3h-1zM982 323h1v3h-1zM982 329h1v3h-1zM982 335h1v3h-1zM982 341h1v3h-1zM982 347h1v3h-1zM982 353h1v3h-1zM982 359h1v3h-1zM982 365h1v3h-1zM982 371h1v3h-1zM982 377h1v3h-1zM982 383h1v3h-1zM982 389h1v3h-1zM982 395h1v3h-1zM982 401h1v3h-1zM982 407h1v3h-1zM982 413h1v3h-1zM982 419h1v3h-1zM982 425h1v3h-1zM982 431h1v3h-1zM982 437h1v3h-1zM982 443h1v3h-1zM982 449h1v3h-1zM982 455h1v3h-1zM982 461h1v3h-1zM982 467h1v3h-1zM982 473h1v3h-1zM982 479h1v3h-1zM982 485h1v3h-1zM982 491h1v3h-1zM982 497h1v3h-1zM982 503h1v3h-1zM982 509h1v3h-1zM982 515h1v2h-1zM982 518h1v16h-1zM1009 75h1v2h-1zM1009 80h1v3h-1zM1009 86h1v3h-1zM1009 92h1v3h-1zM1009 98h1v3h-1zM1009 104h1v3h-1zM1009 110h1v3h-1zM1009 116h1v3h-1zM1009 122h1v3h-1zM1009 128h1v3h-1zM1009 134h1v3h-1zM1009 140h1v3h-1zM1009 146h1v3h-1zM1009 152h1v3h-1zM1009 158h1v3h-1zM1009 164h1v3h-1zM1009 170h1v3h-1zM1009 176h1v3h-1zM1009 182h1v3h-1zM1009 188h1v3h-1zM1009 194h1v3h-1zM1009 200h1v3h-1zM1009 206h1v3h-1zM1009 212h1v3h-1zM1009 218h1v3h-1zM1009 224h1v3h-1zM1009 230h1v3h-1zM1009 236h1v3h-1zM1009 242h1v3h-1zM1009 248h1v3h-1zM1009 254h1v3h-1zM1009 260h1v3h-1zM1009 266h1v3h-1zM1009 272h1v3h-1zM1009 278h1v3h-1zM1009 284h1v3h-1zM1009 290h1v3h-1zM1009 296h1v3h-1zM1009 302h1v3h-1zM1009 308h1v3h-1zM1009 314h1v3h-1zM1009 320h1v3h-1zM1009 326h1v3h-1zM1009 332h1v3h-1zM1009 338h1v3h-1zM1009 344h1v3h-1zM1009 350h1v3h-1zM1009 356h1v3h-1zM1009 362h1v3h-1zM1009 368h1v3h-1zM1009 374h1v3h-1zM1009 380h1v3h-1zM1009 386h1v3h-1zM1009 392h1v3h-1zM1009 398h1v3h-1zM1009 404h1v3h-1zM1009 410h1v3h-1zM1009 416h1v3h-1zM1009 422h1v3h-1zM1009 428h1v3h-1zM1009 434h1v3h-1zM1009 440h1v3h-1zM1009 446h1v3h-1zM1009 452h1v3h-1zM1009 458h1v3h-1zM1009 464h1v3h-1zM1009 470h1v3h-1zM1009 476h1v3h-1zM1009 482h1v3h-1zM1009 488h1v3h-1zM1009 494h1v3h-1zM1009 500h1v3h-1zM1009 506h1v3h-1zM1009 512h1v3h-1z"/>
<path fill="#ff0000" d="M203 74h3v44h-3zM224 74h3v44h-3zM244 74h4v44h-4zM264 74h4v44h-4zM285 74h3v44h-3zM306 74h3v44h-3zM326 74h4v44h-4zM346 74h4v44h-4zM367 74h3v44h-3zM387 74h4v44h-4zM408 74h3v44h-3zM428 74h4v44h-4zM448 74h4v44h-4zM469 74h3v44h-3zM490 74h3v44h-3zM510 74h4v44h-4zM530 74h4v44h-4zM551 74h3v44h-3zM572 74h3v44h-3zM591 74h5v44h-5zM612 74h3v44h-3zM633 74h3v44h-3zM654 74h3v44h-3zM673 74h5v44h-5zM694 74h3v44h-3zM715 74h3v44h-3zM735 74h4v44h-4zM755 74h4v44h-4zM776 74h3v44h-3zM796 74h4v44h-4zM817 74h3v44h-3zM837 74h4v44h-4zM858 74h3v44h-3zM878 74h4v44h-4zM899 74h3v44h-3zM919 74h4v44h-4zM939 74h4v44h-4zM960 74h3v44h-3zM981 74h3v44h-3zM1000 74h5v44h-5z"/>
<path fill="#fff" d="M234 517h1v1h-1zM301 517h1v1h-1zM370 517h1v1h-1zM440 517h1v1h-1zM503 517h1v1h-1zM572 517h1v1h-1zM639 517h1v1h-1zM709 517h1v1h-1zM776 517h1v1h-1zM846 517h1v1h-1zM915 517h1v1h-1zM982 517h1v1h-1zM1009 517h1v1h-1zM1009 184h1v1h-1zM1009 296h1v1h-1zM234 407h1v1h-1zM301 407h1v1h-1zM503 407h1v1h-1zM709 407h1v1h-1zM846 407h1v1h-1z"/>
<path fill="#e3e34b" d="M776 473h1v2h-1z"/>
</g>
<text id="title" x="488" y="37" font-size="20.8" textLength="225.7" lengthAdjust="spacingAndGlyphs" fill="#000" stroke="#000">OL Stubenbergsee Nord</text>
<text id="sub" x="460" y="65" font-size="15.8" textLength="279.5" lengthAdjust="spacingAndGlyphs" fill="#000" stroke="#000">Elektr. Leitfähigkeit_Tiefe - 1a Rückblick</text>
<text id="aus" x="148" y="81" font-size="17.5" textLength="35.98" lengthAdjust="spacingAndGlyphs" fill="#ff0000" stroke="#ff0000">AUS</text>
<text id="ein" x="152" y="125" font-size="17.5" textLength="29.19" lengthAdjust="spacingAndGlyphs" fill="#ff0000" stroke="#ff0000">EIN</text>
<text id="y2000" x="1035" y="81" font-size="20.0" textLength="45.53" lengthAdjust="spacingAndGlyphs" fill="#000" stroke="#000">2000</text>
<text id="y1500" x="1037" y="192" font-size="20.0" textLength="43.47" lengthAdjust="spacingAndGlyphs" fill="#000" stroke="#000">1500</text>
<text id="y1000" x="1037" y="303" font-size="20.0" textLength="43.47" lengthAdjust="spacingAndGlyphs" fill="#000" stroke="#000">1000</text>
<text id="y500" x="1047" y="414" font-size="20.0" textLength="33.38" lengthAdjust="spacingAndGlyphs" fill="#000" stroke="#000">500</text>
<text id="y0" x="1069" y="524" font-size="20.0" textLength="11.12" lengthAdjust="spacingAndGlyphs" fill="#000" stroke="#000">0</text>
<text id="d0" x="132" y="571" font-size="18.0" textLength="118.1" lengthAdjust="spacingAndGlyphs" fill="#000" stroke="#000">13.10.24 22:35</text>
<text id="d1" x="950" y="571" font-size="18.0" textLength="120.12" lengthAdjust="spacingAndGlyphs" fill="#000" stroke="#000">13.10.25 22:35</text>
<text id="ft1" x="498" y="632" font-size="15.0" textLength="206.09" lengthAdjust="spacingAndGlyphs" fill="#000" stroke="#000">Technisches Büro Dr. Schuster</text>
<text id="ft2" x="397" y="646" font-size="12.3" textLength="407.11" lengthAdjust="spacingAndGlyphs" fill="#ff0000" stroke="#ff0000">Die angezeigten Daten sind ungeprüfte Rohdaten, Angaben ohne Gewähr!</text>
<text id="m0" x="199" y="551" font-size="20.566" textLength="28.88" lengthAdjust="spacingAndGlyphs" fill="#000" stroke="#000">Okt</text>
<text id="m1" x="250" y="551" font-size="20.462" textLength="34.24" lengthAdjust="spacingAndGlyphs" fill="#000" stroke="#000">Nov</text>
<text id="m2" x="319" y="551" font-size="20.462" textLength="36.38" lengthAdjust="spacingAndGlyphs" fill="#000" stroke="#000">Dez</text>
<text id="m3" x="391" y="551" font-size="20.462" textLength="30.92" lengthAdjust="spacingAndGlyphs" fill="#000" stroke="#000">Jan</text>
<text id="m4" x="454" y="551" font-size="20.566" textLength="35.41" lengthAdjust="spacingAndGlyphs" fill="#000" stroke="#000">Feb</text>
<text id="m5" x="523" y="551" font-size="20.462" textLength="32.98" lengthAdjust="spacingAndGlyphs" fill="#000" stroke="#000">Mrz</text>
<text id="m6" x="591" y="551" font-size="20.462" textLength="29.85" lengthAdjust="spacingAndGlyphs" fill="#000" stroke="#000">Apr</text>
<text id="m7" x="659" y="551" font-size="20.566" textLength="30.9" lengthAdjust="spacingAndGlyphs" fill="#000" stroke="#000">Mai</text>
<text id="m8" x="730" y="551" font-size="20.462" textLength="29.89" lengthAdjust="spacingAndGlyphs" fill="#000" stroke="#000">Jun</text>
<text id="m9" x="800" y="551" font-size="20.566" textLength="24.16" lengthAdjust="spacingAndGlyphs" fill="#000" stroke="#000">Jul</text>
<text id="m10" x="864" y="551" font-size="20.462" textLength="34.33" lengthAdjust="spacingAndGlyphs" fill="#000" stroke="#000">Aug</text>
<text id="m11" x="932" y="551" font-size="20.462" textLength="35.37" lengthAdjust="spacingAndGlyphs" fill="#000" stroke="#000">Sep</text>
<text id="pump" transform="translate(103 178) rotate(-90)" x="0" y="0" font-size="19.385" textLength="115.68" lengthAdjust="spacingAndGlyphs" fill="#ff0000" stroke="#ff0000">Pumpenstatus</text>
<text id="ylab" transform="translate(1144.3 475) rotate(-90)" x="0" y="0" font-size="21.7" textLength="328.72" lengthAdjust="spacingAndGlyphs" fill="#000" stroke="#000">Elektr. Leitfähigkeit_Tiefe in µs/cm</text>
<g id="feet" fill="#fff"><rect x="650.14" y="63.00" width="3.72" height="3.00"/><rect x="655.36" y="63.00" width="3.50" height="3.00"/><rect x="1037.49" y="190.00" width="4.38" height="3.00"/><rect x="1043.69" y="190.00" width="4.12" height="3.00"/><rect x="1037.49" y="301.00" width="4.38" height="3.00"/><rect x="1043.69" y="301.00" width="4.12" height="3.00"/><rect x="132.35" y="569.00" width="4.05" height="3.00"/><rect x="138.07" y="569.00" width="3.82" height="3.00"/><rect x="156.94" y="569.00" width="4.06" height="3.00"/><rect x="162.67" y="569.00" width="3.82" height="3.00"/><rect x="950.37" y="569.00" width="4.11" height="3.00"/><rect x="956.17" y="569.00" width="3.87" height="3.00"/><rect x="975.39" y="569.00" width="4.11" height="3.00"/><rect x="981.19" y="569.00" width="3.87" height="3.00"/></g>
</svg>
</body></html>
